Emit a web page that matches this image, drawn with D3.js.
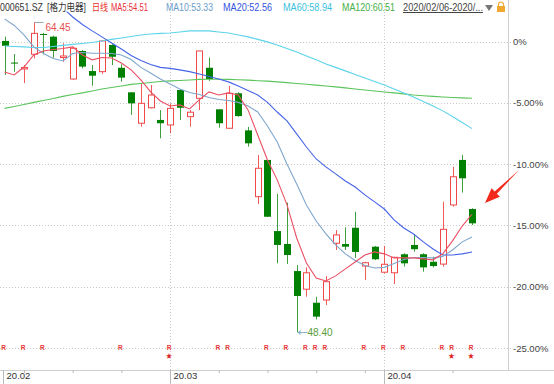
<!DOCTYPE html>
<html>
<head>
<meta charset="utf-8">
<script src="https://cdn.jsdelivr.net/npm/d3@7"></script>
<style>
  body { margin: 0; background: #fff; }
  svg { display: block; font-family: "Liberation Sans", "Noto Sans CJK SC", sans-serif; }
</style>
</head>
<body>
<div id="chart"></div>
<script>
var width = 554, height = 384;
var base = 63.45;   // price at 0%

var dates = ["02/06","02/07","02/10","02/11","02/12","02/13","02/14","02/17","02/18","02/19",
             "02/20","02/21","02/24","02/25","02/26","02/27","02/28","03/02","03/03","03/04",
             "03/05","03/06","03/09","03/10","03/11","03/12","03/13","03/16","03/17","03/18",
             "03/19","03/20","03/23","03/24","03/25","03/26","03/27","03/30","03/31","04/01",
             "04/02","04/03","04/07","04/08","04/09","04/10","04/13","04/14","04/15"];

var open  = [63.48,62.36,62.03,62.79,63.84,63.70,62.62,61.51,62.96,61.92,
             61.89,63.27,62.09,60.82,59.22,60.02,59.39,59.13,60.94,59.56,
             60.51,62.09,59.94,58.96,60.77,58.85,55.42,57.32,53.64,52.97,
             51.57,50.63,49.93,50.07,53.01,52.97,53.81,51.83,52.83,51.51,
             51.48,52.44,52.92,52.44,52.05,51.93,54.99,57.32,54.78];
var high  = [63.70,62.80,62.23,64.45,63.89,63.75,63.36,63.18,63.01,62.23,
             63.53,63.31,62.27,60.82,61.29,61.20,59.90,60.25,60.99,59.90,
             62.96,62.61,59.94,61.15,60.82,59.03,57.58,57.32,55.56,55.11,
             51.88,51.76,50.24,51.31,53.69,53.83,54.64,52.05,52.87,52.87,
             52.31,52.49,53.44,52.49,52.31,55.16,56.97,57.58,54.82];
var low   = [61.72,61.89,61.30,62.58,62.79,62.61,62.40,61.46,62.06,61.16,
             61.77,62.23,61.37,59.65,59.04,59.99,58.44,58.70,59.39,59.04,
             59.90,61.41,58.99,58.96,59.56,58.01,55.04,54.37,51.97,51.94,
             48.40,50.24,49.07,49.81,52.66,52.66,52.25,51.11,52.14,51.45,
             50.90,51.80,52.57,51.54,51.76,51.80,54.90,55.63,53.95];
var close = [63.23,62.31,62.10,63.87,63.79,62.96,62.70,63.10,62.15,61.68,
             63.48,62.66,61.58,60.25,60.25,60.68,59.22,59.99,60.02,59.79,
             62.96,61.51,59.22,60.77,59.59,58.18,56.89,54.38,52.92,52.40,
             50.28,51.48,49.21,51.02,53.44,52.83,52.56,52.00,52.18,51.92,
             52.28,51.97,52.70,51.76,51.83,53.73,56.45,56.37,54.04];

var ma5   = [61.87,61.72,62.13,62.75,62.96,63.04,63.09,63.17,62.75,62.50,
             62.62,62.60,62.34,61.98,61.46,60.84,60.37,60.11,60.17,59.96,
             60.43,60.84,60.68,60.79,60.68,59.91,58.61,57.32,56.29,55.01,
             53.28,51.99,51.21,51.06,51.32,51.68,52.04,52.40,52.56,52.46,
             52.25,52.25,52.25,52.20,52.15,52.46,53.13,53.90,54.51];
var ma10  = [64.62,64.28,63.79,63.17,62.83,62.57,62.44,62.83,62.88,62.84,
             62.84,62.83,62.75,62.52,62.11,61.82,61.51,61.25,60.99,60.81,
             60.71,60.55,60.45,60.40,60.30,60.11,59.80,59.08,58.25,57.11,
             56.08,54.99,54.16,53.49,52.92,52.46,52.12,51.86,51.73,51.76,
             51.96,52.17,52.27,52.27,52.25,52.33,52.66,53.08,53.33];
var ma20  = [null,null,null,null,null,null,65.19,64.72,64.33,64.00,
             63.69,63.37,63.06,62.73,62.47,62.26,62.11,62.06,61.98,61.89,
             61.77,61.64,61.51,61.36,61.15,60.92,60.68,60.30,59.80,59.34,
             58.67,57.99,57.37,56.96,56.60,56.23,55.92,55.51,55.15,54.78,
             54.22,53.80,53.49,53.08,52.71,52.40,52.40,52.46,52.56];
var ma60  = [63.22,63.19,63.17,63.14,63.14,63.19,63.25,63.30,63.35,63.40,
             63.48,63.56,63.63,63.71,63.79,63.84,63.87,63.89,63.94,64.00,
             64.01,64.00,63.94,63.89,63.79,63.69,63.56,63.43,63.27,63.09,
             62.91,62.70,62.50,62.29,62.11,61.93,61.74,61.56,61.38,61.20,
             60.99,60.79,60.58,60.35,60.11,59.86,59.57,59.26,58.94];
var ma120 = [59.99,60.09,60.19,60.30,60.40,60.50,60.61,60.71,60.79,60.89,
             60.99,61.07,61.15,61.23,61.28,61.33,61.38,61.41,61.43,61.46,
             61.49,61.50,61.50,61.49,61.47,61.45,61.42,61.40,61.36,61.32,
             61.28,61.24,61.19,61.15,61.10,61.05,60.99,60.94,60.89,60.84,
             60.79,60.74,60.68,60.64,60.61,60.58,60.55,60.53,60.51];

var pctTicks  = [0, -5, -10, -15, -20, -25];
var pctLabels = ["0%", "-5.00%", "-10.00%", "-15.00%", "-20.00%", "-25.00%"];
var monthTicks  = ["02/06", "03/02", "04/01"];
var monthLabels = ["20.02", "20.03", "20.04"];
var weekTicks = ["02/10","02/17","02/24","03/09","03/16","03/23","03/30","04/13"];
var rMarks = ["02/06","02/10","02/12","02/24","03/02","03/09","03/10","03/16","03/18",
              "03/20","03/23","03/24","03/30","04/01","04/03","04/10","04/13","04/15"];
var starMarks = ["03/02","04/13","04/15"];

var legend = [
  {t: "000651.SZ", c: "#333", x: 0, w: 43},
  {t: "[格力电器]", c: "#333", x: 47, w: 39},
  {t: "日线", c: "#e8302a", x: 92, w: 16},
  {t: "MA5:54.51", c: "#e8303a", x: 111, w: 37},
  {t: "MA10:53.33", c: "#6b9cc9", x: 166, w: 47},
  {t: "MA20:52.56", c: "#3352e0", x: 223, w: 49},
  {t: "MA60:58.94", c: "#3bbfdf", x: 283, w: 49},
  {t: "MA120:60.51", c: "#45b045", x: 342, w: 53},
  {t: "2020/02/06-2020/...", c: "#444", x: 403, w: 80}
];

var svg = d3.select("#chart").append("svg")
    .attr("width", width)
    .attr("height", height);

var x = d3.scalePoint().domain(dates).range([4.5, 472]);
var pct = d3.scaleLinear().domain([-25, 0]).range([348, 41.5]);
var y = function(p) { return pct((p / base - 1) * 100); };
var px = function(d) { return Math.round(x(d)) + 0.5; };

svg.append("defs").append("clipPath").attr("id", "plot")
  .append("rect").attr("x", 0).attr("y", 11.5).attr("width", 508).attr("height", 359);

// grid
svg.append("g").selectAll("line")
    .data(pctTicks).enter().append("line")
    .attr("x1", 0).attr("x2", 512)
    .attr("y1", function(d) { return Math.round(pct(d)) + 0.5; })
    .attr("y2", function(d) { return Math.round(pct(d)) + 0.5; })
    .style("stroke", "#c8c8c8")
    .style("stroke-dasharray", "1,2");
svg.append("g").selectAll("line")
    .data(monthTicks.slice(1)).enter().append("line")
    .attr("x1", px).attr("x2", px)
    .attr("y1", 0).attr("y2", 370)
    .style("stroke", "#c8c8c8")
    .style("stroke-dasharray", "1,2");

// axis lines
svg.append("line").attr("x1", 508.5).attr("x2", 508.5).attr("y1", 0).attr("y2", 370)
    .style("stroke", "#cfcfcf");
svg.append("line").attr("x1", 0).attr("x2", width).attr("y1", 370.5).attr("y2", 370.5)
    .style("stroke", "#cfcfcf");

// right axis
var yAxis = svg.append("g")
    .attr("transform", "translate(508,0)")
    .call(d3.axisRight(pct).tickValues(pctTicks)
        .tickFormat(function(d, i) { return pctLabels[i]; })
        .tickSize(0).tickPadding(5));
yAxis.select(".domain").remove();
yAxis.selectAll("text").style("font-size", "9.5px").style("fill", "#444")
    .style("font-family", "Liberation Sans, sans-serif");

// bottom axis
var xAxis = svg.append("g")
    .attr("transform", "translate(0,370)")
    .call(d3.axisBottom(x).tickValues(weekTicks).tickSize(3).tickFormat(""));
xAxis.select(".domain").remove();
xAxis.selectAll("line").style("stroke", "#bbb");

var months = svg.append("g").selectAll("g")
    .data(monthTicks).enter().append("g");
months.append("line")
    .attr("x1", function(d, i) { return i == 0 ? 3.5 : px(d); })
    .attr("x2", function(d, i) { return i == 0 ? 3.5 : px(d); })
    .attr("y1", 370).attr("y2", 384)
    .style("stroke", "#bbb");
months.append("text")
    .attr("x", function(d, i) { return (i == 0 ? 3.5 : px(d)) + 3; })
    .attr("y", 379)
    .style("font-size", "9.5px")
    .style("fill", "#333")
    .text(function(d, i) { return monthLabels[i]; });

// candles
var candles = svg.append("g").attr("clip-path", "url(#plot)")
    .selectAll(".candle")
    .data(dates).enter().append("g")
    .attr("class", "candle");
candles.append("line")
    .attr("x1", px).attr("x2", px)
    .attr("y1", function(d, i) { return y(high[i]); })
    .attr("y2", function(d, i) { return y(low[i]); })
    .style("stroke", function(d, i) { return close[i] >= open[i] ? "#f25a5a" : "#3c9e3c"; });
candles.append("rect")
    .attr("x", function(d, i) { return close[i] >= open[i] ? px(d) - 3 : px(d) - 3.5; })
    .attr("width", function(d, i) { return close[i] >= open[i] ? 6 : 7; })
    .attr("y", function(d, i) { return y(Math.max(open[i], close[i])); })
    .attr("height", function(d, i) { return Math.max(1, Math.abs(y(open[i]) - y(close[i]))); })
    .style("fill", function(d, i) { return close[i] >= open[i] ? "#fff" : "#008000"; })
    .style("stroke", function(d, i) { return close[i] >= open[i] ? "#f04848" : "none"; });

// moving averages
var line = d3.line()
    .defined(function(d) { return d != null; })
    .x(function(d, i) { return x(dates[i]); })
    .y(function(d) { return y(d); });
var mas = [
  {v: ma120, c: "#5cc45c"},
  {v: ma60, c: "#5dd3ea"},
  {v: ma20, c: "#4563e6"},
  {v: ma10, c: "#7fa6cc"},
  {v: ma5, c: "#ea4e62"}
];
svg.append("g").attr("clip-path", "url(#plot)")
    .selectAll("path").data(mas).enter().append("path")
    .attr("d", function(d) { return line(d.v); })
    .style("fill", "none")
    .style("stroke", function(d) { return d.c; })
    .style("stroke-width", 1.1);

// high / low labels
var hi = d3.maxIndex(high), lo = d3.minIndex(low);
var hx = px(dates[hi]), hy = Math.round(y(high[hi])) + 0.5;
svg.append("polyline")
    .attr("points", [[hx, hy], [hx + 9, hy]].join(" "))
    .style("fill", "none").style("stroke", "#9aa");
svg.append("text").attr("x", hx + 11).attr("y", hy + 8)
    .style("font-size", "10px").style("fill", "#e85050")
    .text(high[hi].toFixed(2));
var lx = px(dates[lo]), ly = Math.round(y(low[lo])) + 0.5;
svg.append("line").attr("x1", lx).attr("x2", lx + 10).attr("y1", ly).attr("y2", ly)
    .style("stroke", "#8ab4c8");
svg.append("path")
    .attr("d", "M" + lx + "," + ly + "l3,-2.5v5z")
    .style("fill", "#8ab4c8");
svg.append("text").attr("x", lx + 10).attr("y", ly + 3.5)
    .style("font-size", "10px").style("fill", "#5a9e3a")
    .text(low[lo].toFixed(2));

// R / star markers
svg.append("g").selectAll("text")
    .data(rMarks).enter().append("text")
    .attr("x", function(d) { return x(d) - 1; })
    .attr("y", 350)
    .attr("text-anchor", "middle")
    .style("font-size", "6.5px")
    .style("font-weight", "bold")
    .style("fill", "#e83838")
    .text("R");
svg.append("g").selectAll("text")
    .data(starMarks).enter().append("text")
    .attr("x", function(d) { return x(d) - 1; })
    .attr("y", 357.5)
    .attr("text-anchor", "middle")
    .style("font-size", "6.5px")
    .style("fill", "#e02020")
    .text("★");

// arrow
var tip = [485, 203], tail = [519, 170];
var dx = tip[0] - tail[0], dy = tip[1] - tail[1], len = Math.sqrt(dx * dx + dy * dy);
var ux = dx / len, uy = dy / len, nx = -uy, ny = ux;
var bx = tip[0] - 15 * ux, by = tip[1] - 15 * uy;
svg.append("path")
    .attr("d", "M" + tail[0] + "," + tail[1] +
        "L" + (bx + 1.6 * nx) + "," + (by + 1.6 * ny) +
        "L" + (bx + 6 * nx) + "," + (by + 6 * ny) +
        "L" + tip[0] + "," + tip[1] +
        "L" + (bx - 6 * nx) + "," + (by - 6 * ny) +
        "L" + (bx - 1.6 * nx) + "," + (by - 1.6 * ny) + "Z")
    .style("fill", "#f22a1e");

// header
svg.append("g").selectAll("text")
    .data(legend).enter().append("text")
    .attr("x", function(d) { return d.x; })
    .attr("y", 11)
    .attr("textLength", function(d) { return d.w; })
    .attr("lengthAdjust", "spacingAndGlyphs")
    .style("font-size", "10px")
    .style("fill", function(d) { return d.c; })
    .style("text-decoration", function(d, i) { return i == legend.length - 1 ? "underline" : null; })
    .text(function(d) { return d.t; });
svg.append("path").attr("d", "M485,5h8l-4,6z").style("fill", "#777");
svg.append("path").attr("d", "M498.5,6v-1.5a2.5,2.5 0 0 1 5,0v1.5")
    .style("fill", "none").style("stroke", "#f0a830").style("stroke-width", 1.2);
svg.append("rect").attr("x", 497).attr("y", 6).attr("width", 8).attr("height", 6)
    .style("fill", "#f0a830");
</script>
</body>
</html>
